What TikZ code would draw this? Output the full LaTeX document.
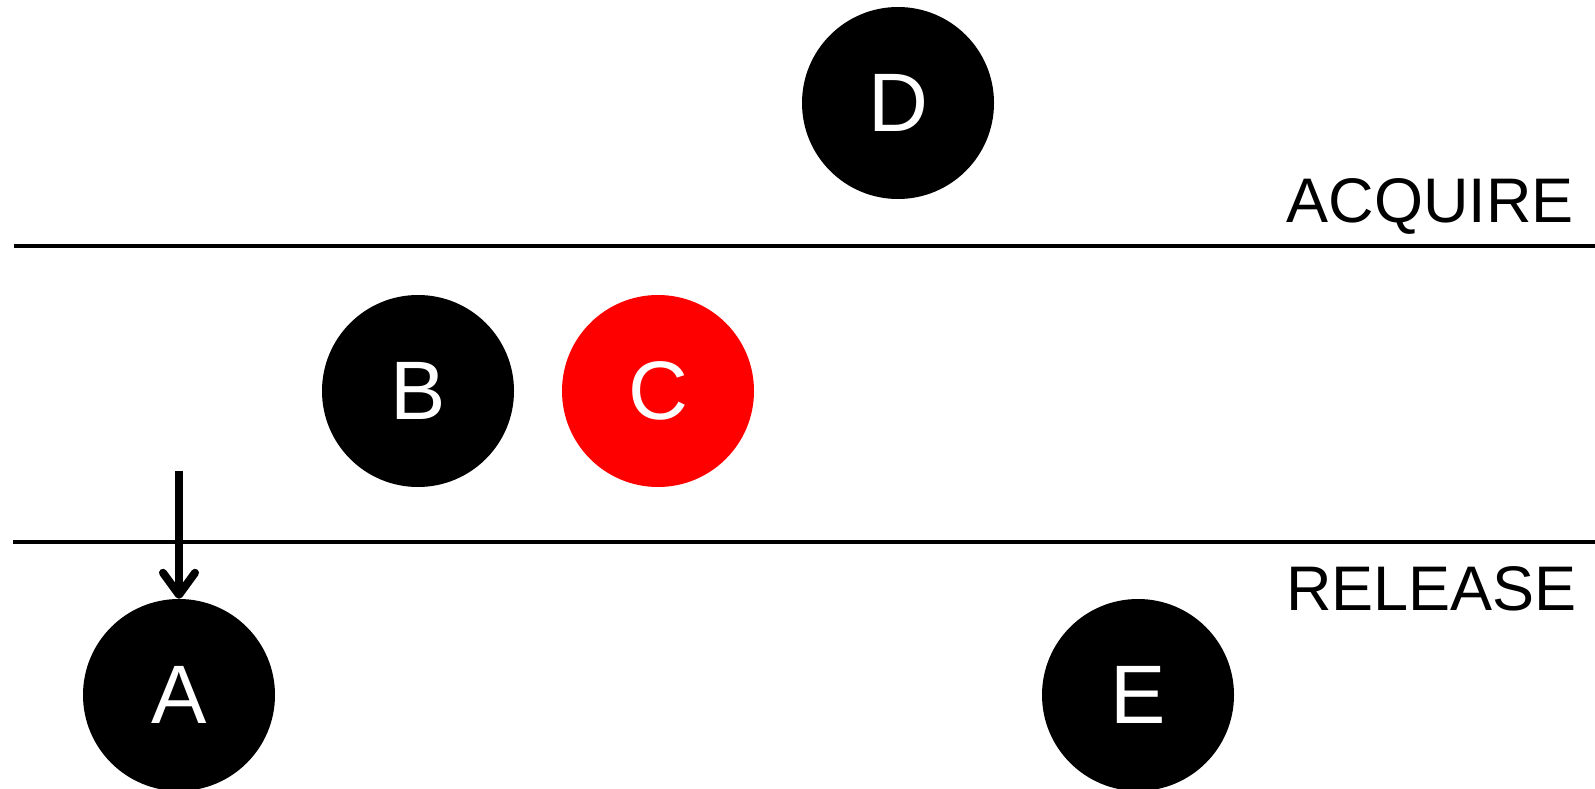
\documentclass[tikz,border=0pt]{standalone}
\usepackage{fontspec}
\setmainfont{Liberation Sans}
\usetikzlibrary{arrows.meta}
\tikzset{
  token/.style={circle, fill=black, minimum size=192pt, inner sep=0pt,
    text=white, font=\fontsize{83}{83}\selectfont},
  hot/.style={token, fill=red},
  divider/.style={line width=4pt},
  zonelabel/.style={anchor=base east, inner sep=0pt, font=\fontsize{63}{63}\selectfont},
  flow/.style={line width=8pt, -{Straight Barb[length=22pt, width=32pt, round]}}
}
\begin{document}
\begin{tikzpicture}[x=1pt, y=-1pt]
  \useasboundingbox (0,0) rectangle (1595,789);
  % phase boundaries
  \coordinate (t0) at (14,245.5);
  \coordinate (t1) at (1595,245.5);
  \coordinate (b0) at (13,541.5);
  \coordinate (b1) at (1595,541.5);
  \draw[divider] (t0) -- (t1);
  \draw[divider] (b0) -- (b1);
  \node[zonelabel] (acq) at (1574,222) {ACQUIRE};
  \node[zonelabel] (rel) at (1577,610) {RELEASE};
  % tokens
  \node[token] (D) at (898,103) {D};
  \node[token] (B) at (418,391) {B};
  \node[hot]   (C) at (658,391) {C};
  \node[token] (A) at (179,695) {A};
  \node[token] (E) at (1138,695) {E};
  % incoming move
  \coordinate (src) at (179,471);
  \draw[flow] (src) -- (A.north);
\end{tikzpicture}
\end{document}
